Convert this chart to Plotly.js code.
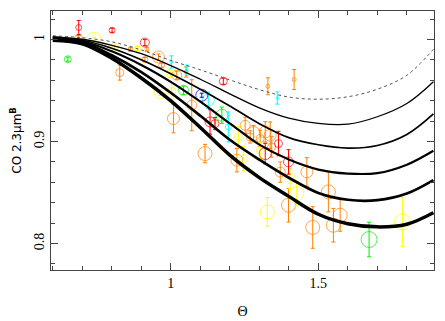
<!DOCTYPE html>
<html><head><meta charset="utf-8">
<script src="https://cdn.plot.ly/plotly-3.0.1.min.js"></script>
<style>html,body{margin:0;padding:0;background:#fff}#chart{width:445px;height:321px}</style>
</head><body><div id="chart"></div>
<script>
// Model curves (theta grid shared by all)
var curveX = [0.6, 0.7, 0.8, 0.9, 1.0, 1.1, 1.2, 1.3, 1.4, 1.5, 1.6, 1.7, 1.8, 1.89];
var curve1 = [1.0037, 1.0018, 0.9978, 0.9898, 0.9795, 0.9703, 0.9604, 0.9509, 0.9436, 0.9415, 0.9439, 0.9513, 0.9650, 0.9905];
var curve2 = [1.0027, 1.0003, 0.9944, 0.9861, 0.9745, 0.9611, 0.9468, 0.9330, 0.9229, 0.9177, 0.9170, 0.9243, 0.9373, 0.9587];
var curve3 = [1.0023, 0.9993, 0.9915, 0.9802, 0.9664, 0.9513, 0.9348, 0.9175, 0.9038, 0.8968, 0.8936, 0.8961, 0.9069, 0.9271];
var curve4 = [1.0013, 0.9983, 0.9885, 0.9751, 0.9585, 0.9391, 0.9178, 0.8969, 0.8823, 0.8725, 0.8686, 0.8690, 0.8773, 0.8910];
var curve5 = [1.0003, 0.9974, 0.9846, 0.9681, 0.9478, 0.9253, 0.9017, 0.8822, 0.8645, 0.8496, 0.8429, 0.8425, 0.8490, 0.8622];
var curve6 = [0.9993, 0.9959, 0.9817, 0.9623, 0.9399, 0.9138, 0.8866, 0.8646, 0.8462, 0.8287, 0.8194, 0.8163, 0.8189, 0.8302];

// Observations by colour group
var redX   = [0.688, 0.801, 0.912, 1.178, 1.133, 1.150, 1.320, 1.365, 1.399];
var redY   = [1.0118, 1.0091, 0.9971, 0.9591, 0.9192, 0.9176, 0.8882, 0.8980, 0.8800];
var redErr = [0.0069, 0.002, 0.003, 0.003, 0.012, 0.006, 0.010, 0.012, 0.012];
var redSize= [6, 6, 9, 8, 10, 8, 12, 8, 10];

var orangeX   = [0.687, 0.863, 0.919, 0.912, 0.827, 0.958, 0.969, 1.020, 1.052, 1.329, 1.418, 1.071, 1.009, 1.116, 1.224, 1.280, 1.320, 1.337, 1.269, 1.303, 1.342, 1.461, 1.534, 1.574, 1.551, 1.481, 1.399, 1.371, 1.252];
var orangeY   = [1.001, 0.9905, 0.9905, 0.9804, 0.9676, 0.9829, 0.9748, 0.965, 0.9682, 0.9542, 0.9608, 0.9356, 0.9225, 0.8882, 0.8817, 0.9078, 0.9094, 0.9062, 0.9045, 0.903, 0.8947, 0.8702, 0.8506, 0.8277, 0.8179, 0.8157, 0.8375, 0.870, 0.9159];
var orangeErr = [0.003, 0.002, 0.002, 0.002, 0.0074, 0.003, 0.002, 0.004, 0.005, 0.0083, 0.0098, 0.025, 0.014, 0.009, 0.0115, 0.008, 0.010, 0.013, 0.006, 0.008, 0.010, 0.014, 0.0196, 0.0157, 0.0165, 0.0204, 0.0165, 0.010, 0.008];
var orangeSize= [8, 4, 4, 6, 8, 12, 6, 10, 4, 4, 4, 10, 12, 14, 12, 14, 12, 12, 8, 8, 8, 12, 14, 14, 14, 14, 14, 10, 10];

var yellowX   = [0.740, 0.809, 0.887, 0.998, 0.964, 1.003, 1.229, 1.246, 1.404, 1.427, 1.327, 1.785, 1.303];
var yellowY   = [1.0003, 0.9927, 0.9912, 0.9667, 0.948, 0.9493, 0.9045, 0.8833, 0.8637, 0.849, 0.831, 0.8212, 0.8915];
var yellowErr = [0.002, 0.002, 0.002, 0.004, 0.003, 0.008, 0.010, 0.012, 0.010, 0.012, 0.014, 0.024, 0.008];
var yellowSize= [14, 8, 6, 8, 12, 8, 8, 8, 10, 14, 14, 16, 8];

var greenX   = [0.651, 1.043, 1.173, 1.672];
var greenY   = [0.9807, 0.9503, 0.9258, 0.8039];
var greenErr = [0.002, 0.004, 0.008, 0.017];
var greenSize= [7, 10, 12, 16];

var cyanX   = [1.002, 1.054, 1.361, 1.127, 1.195];
var cyanY   = [0.978, 0.970, 0.9427, 0.9405, 0.9143];
var cyanErr = [0.006, 0.005, 0.006, 0.008, 0.0147];
var cyanSize= [3, 3, 3, 12, 6];

var blueX   = [1.105];
var blueY   = [0.9454];
var blueErr = [0.002];
var blueSize= [12];

var xTickVals = [1, 1.5];
var xTickText = ['1', '1.5'];
var yTickVals = [0.8, 0.9, 1];
var yTickText = ['0.8', '0.9', '1'];

function curveTrace(y, w, color, dash) {
  return {x: curveX, y: y, mode: 'lines', line: {color: color, width: w, dash: dash, shape: 'spline'}, hoverinfo: 'skip'};
}
function pointTrace(x, y, err, size, color) {
  return {x: x, y: y, mode: 'markers', type: 'scatter',
    marker: {symbol: 'circle-open', size: size, color: color, line: {width: 1, color: color}},
    error_y: {type: 'data', array: err, visible: true, color: color, thickness: 1, width: 2}};
}

var data = [
  pointTrace(orangeX, orangeY, orangeErr, orangeSize, '#ff8000'),
  pointTrace(yellowX, yellowY, yellowErr, yellowSize, '#ffff00'),
  pointTrace(greenX, greenY, greenErr, greenSize, '#00ee00'),
  pointTrace(cyanX, cyanY, cyanErr, cyanSize, '#00ffff'),
  pointTrace(blueX, blueY, blueErr, blueSize, '#0000ff'),
  pointTrace(redX, redY, redErr, redSize, '#ff0000'),
  curveTrace(curve1, 1, '#555', 'dot'),
  curveTrace(curve2, 1.3, '#000', 'solid'),
  curveTrace(curve3, 1.7, '#000', 'solid'),
  curveTrace(curve4, 2.2, '#000', 'solid'),
  curveTrace(curve5, 2.7, '#000', 'solid'),
  curveTrace(curve6, 3.5, '#000', 'solid')
];

var axFont = {family: 'Liberation Serif, serif', size: 14, color: '#000'};
var layout = {
  width: 445, height: 321,
  margin: {l: 51, r: 11, t: 11, b: 51},
  paper_bgcolor: '#fff', plot_bgcolor: '#fff',
  showlegend: false,
  xaxis: {
    range: [0.594, 1.892], showgrid: false, zeroline: false,
    showline: true, linecolor: '#444', linewidth: 1, mirror: 'allticks',
    ticks: 'inside', ticklen: 7, tickcolor: '#444',
    tickvals: xTickVals, ticktext: xTickText, tickfont: axFont,
    minor: {dtick: 0.1, tick0: 0, ticks: 'inside', ticklen: 4, tickcolor: '#444', showgrid: false},
    title: {text: 'Θ', font: {family: 'Liberation Serif, serif', size: 14, color: '#000'}, standoff: 16}
  },
  yaxis: {
    range: [0.774, 1.028], showgrid: false, zeroline: false,
    showline: true, linecolor: '#444', linewidth: 1, mirror: 'allticks',
    ticks: 'inside', ticklen: 7, tickcolor: '#444',
    tickvals: yTickVals, ticktext: yTickText, tickfont: axFont, tickangle: -90,
    minor: {dtick: 0.02, tick0: 0, ticks: 'inside', ticklen: 4, tickcolor: '#444', showgrid: false},
    title: {text: 'CO 2.3μm<sup><b>B</b></sup>', font: {family: 'DejaVu Sans, sans-serif', size: 12, color: '#000'}, standoff: 8}
  }
};
Plotly.newPlot('chart', data, layout, {staticPlot: true, displayModeBar: false});
</script></body></html>
